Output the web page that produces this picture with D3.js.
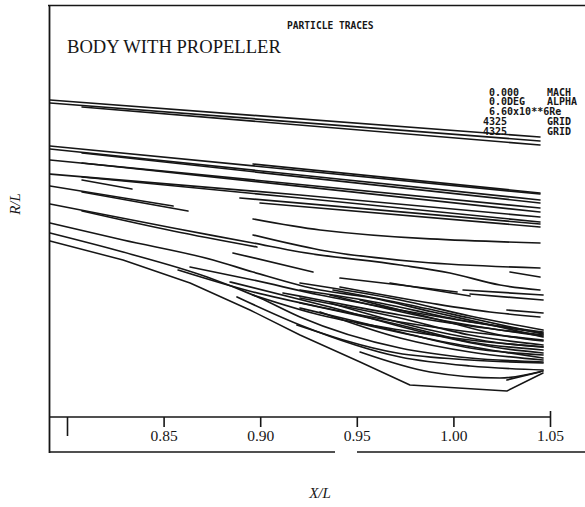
<!DOCTYPE html>
<html><head><meta charset="utf-8">
<script src="https://cdn.jsdelivr.net/npm/d3@7"></script>
<style>body{margin:0;background:#fff}svg{display:block}</style>
</head><body><svg id="c" width="585" height="507"></svg>
<script>
// Axis ticks and annotation text
const xTicks = [0.80, 0.85, 0.90, 0.95, 1.00, 1.05];
const xTickLabels = ["", "0.85", "0.90", "0.95", "1.00", "1.05"];
const chartTitle = "BODY WITH PROPELLER";
const plotTag = "PARTICLE TRACES";
const legendValues = ["0.000", "0.0DEG", "6.60x10**6Re", "4325", "4325"];
const legendNames = ["MACH", "ALPHA", "", "GRID", "GRID"];

// Particle traces, each a list of [X/L, R/L] points
const outerTraces = [
  [[0.7912,0.0634],[1.0448,0.0560]],
  [[0.7912,0.0628],[1.0448,0.0552]],
  [[0.8078,0.0620],[1.0448,0.0544]],
  [[0.8963,0.0506],[1.0448,0.0448]],
  [[0.7912,0.0542],[1.0448,0.0446]],
  [[0.7912,0.0536],[1.0448,0.0434]],
  [[0.8078,0.0528],[1.0448,0.0428]],
  [[0.7912,0.0514],[1.0448,0.0418]],
  [[0.8078,0.0508],[1.0448,0.0410]],
  [[0.7912,0.0486],[0.9206,0.0444],[1.0448,0.0400]],
  [[0.8078,0.0480],[0.9206,0.0438],[1.0448,0.0390]],
  [[0.8078,0.0474],[0.8336,0.0456]],
  [[0.7912,0.0462],[0.8549,0.0422]],
  [[0.8078,0.0450],[0.8626,0.0412]],
  [[0.8895,0.0438],[1.0448,0.0386]],
  [[0.8999,0.0428],[1.0448,0.0380]],
  [[0.8963,0.0396],[0.9310,0.0374],[1.0448,0.0348]],
  [[0.8963,0.0364],[0.9310,0.0334],[0.9827,0.0310],[1.0448,0.0298]]
];

const midTraces = [
  [[0.7912,0.0426],[0.8549,0.0378],[0.8963,0.0348],[0.9206,0.0330],[0.9724,0.0304],[0.9982,0.0288],[1.0241,0.0264],[1.0448,0.0254]],
  [[0.8078,0.0412],[0.8549,0.0372],[0.8983,0.0340]],
  [[0.8859,0.0328],[0.9273,0.0290]],
  [[0.9413,0.0260],[0.9879,0.0228],[1.0189,0.0210],[1.0448,0.0200]],
  [[1.0293,0.0290],[1.0448,0.0280]],
  [[0.9413,0.0278],[0.9724,0.0264],[1.0019,0.0250]],
  [[0.9672,0.0268],[1.0086,0.0242]],
  [[1.0050,0.0254],[1.0464,0.0244]],
  [[1.0086,0.0246],[1.0464,0.0234]],
  [[1.0277,0.0214],[1.0464,0.0208]]
];

const wakeTraces = [
  [[0.7912,0.0388],[0.8290,0.0354],[0.8756,0.0314],[0.8963,0.0290],[0.9310,0.0254],[0.9553,0.0240],[0.9894,0.0210],[1.0241,0.0180],[1.0464,0.0160]],
  [[0.8575,0.0294],[0.8963,0.0250],[0.9310,0.0220],[0.9724,0.0190],[1.0086,0.0170],[1.0464,0.0154]],
  [[0.8637,0.0300],[0.8963,0.0274],[0.9310,0.0244],[0.9724,0.0214],[1.0086,0.0190],[1.0464,0.0168]],
  [[0.8963,0.0244],[0.9310,0.0204],[0.9724,0.0174],[1.0086,0.0154],[1.0464,0.0140]],
  [[0.9118,0.0248],[0.9310,0.0234],[0.9724,0.0204],[1.0086,0.0182],[1.0464,0.0164]],
  [[0.9206,0.0268],[0.9724,0.0234],[1.0086,0.0202],[1.0464,0.0174]],
  [[0.9377,0.0254],[0.9724,0.0228],[1.0086,0.0198],[1.0464,0.0166]],
  [[0.9361,0.0244],[0.9879,0.0198],[1.0241,0.0174],[1.0464,0.0162]],
  [[0.9206,0.0254],[0.9620,0.0228],[1.0034,0.0194],[1.0464,0.0170]],
  [[0.9517,0.0234],[0.9931,0.0194],[1.0241,0.0164],[1.0464,0.0152]],
  [[0.9361,0.0228],[0.9879,0.0174],[1.0241,0.0148],[1.0464,0.0140]],
  [[0.8844,0.0270],[0.9361,0.0220],[0.9879,0.0166],[1.0241,0.0138],[1.0464,0.0128]],
  [[0.9206,0.0238],[0.9724,0.0198],[1.0086,0.0164],[1.0464,0.0144]],
  [[0.9206,0.0228],[0.9724,0.0184],[1.0086,0.0150],[1.0464,0.0134]],
  [[0.9206,0.0218],[0.9724,0.0170],[1.0086,0.0138],[1.0464,0.0124]],
  [[0.9501,0.0188],[0.9982,0.0148],[1.0464,0.0118]],
  [[0.9310,0.0210],[0.9724,0.0158],[1.0086,0.0130],[1.0464,0.0114]],
  [[0.9190,0.0184],[0.9708,0.0128],[1.0086,0.0114],[1.0464,0.0108]],
  [[0.7912,0.0368],[0.8290,0.0330],[0.8725,0.0280],[0.8999,0.0238],[0.9206,0.0200],[0.9724,0.0138],[1.0086,0.0118],[1.0464,0.0110]],
  [[0.8880,0.0240],[0.9206,0.0184],[0.9724,0.0120],[1.0086,0.0102],[1.0464,0.0094]],
  [[0.9517,0.0130],[0.9879,0.0090],[1.0241,0.0078],[1.0464,0.0092]],
  [[1.0277,0.0074],[1.0448,0.0090]]
];

// Hull contour with the propeller hub
const bodyContour = [[0.7912,0.0352],[0.8290,0.0314],[0.8637,0.0268],[0.8947,0.0214],[0.9206,0.0164],[0.9517,0.0110],[0.9775,0.0064],[1.0277,0.0052],[1.0464,0.0088]];

const svg = d3.select("#c");
svg.append("rect").attr("width",585).attr("height",507).attr("fill","#fff");

const x = d3.scaleLinear().domain([0.80, 1.05]).range([67, 550]);
const y = d3.scaleLinear().domain([0, 0.072]).range([417, 57]);
const ink = "#161616";

// frame
const frame = svg.append("g").attr("stroke", ink).attr("fill","none");
frame.append("line").attr("x1",49.5).attr("x2",49.5).attr("y1",5).attr("y2",453).attr("stroke-width",1.8);
frame.append("line").attr("x1",48).attr("x2",585).attr("y1",5.5).attr("y2",5.5).attr("stroke-width",1.4);
frame.append("line").attr("x1",50).attr("x2",335).attr("y1",452).attr("y2",452).attr("stroke-width",1.4);
frame.append("line").attr("x1",357).attr("x2",585).attr("y1",452).attr("y2",452).attr("stroke-width",1.4);

// traces
const smooth = d3.line().x(d => x(d[0])).y(d => y(d[1])).curve(d3.curveMonotoneX);
const straight = d3.line().x(d => x(d[0])).y(d => y(d[1]));
const tg = svg.append("g").attr("fill","none").attr("stroke", ink).attr("stroke-width",1.7)
  .attr("stroke-linecap","round").attr("stroke-linejoin","round");
tg.selectAll("path.o").data(outerTraces).join("path").attr("class","o").attr("d", smooth);
tg.selectAll("path.m").data(midTraces).join("path").attr("class","m").attr("d", smooth);
tg.selectAll("path.w").data(wakeTraces).join("path").attr("class","w").attr("d", smooth);
tg.append("path").datum(bodyContour).attr("d", straight).attr("stroke-width",1.5);

// x axis
const axis = d3.axisBottom(x).tickValues(xTicks).tickSize(10).tickPadding(3)
  .tickFormat((d,i) => xTickLabels[i]);
const ag = svg.append("g").attr("transform", `translate(0,${y(0)})`).call(axis);
ag.select(".domain").remove();
ag.selectAll(".tick line").attr("stroke", ink).attr("stroke-width",1.6);
ag.selectAll(".tick line").filter((d,i) => i === 0).attr("y2", 19);
ag.selectAll(".tick line").filter((d,i) => i === xTicks.length-1).attr("y1", -6);
ag.selectAll(".tick text").attr("fill", ink)
  .style("font-family","'Liberation Serif','DejaVu Serif',serif").style("font-size","15.5px");
svg.append("line").attr("x1",50).attr("x2",x(1.05)).attr("y1",y(0)).attr("y2",y(0))
  .attr("stroke", ink).attr("stroke-width",1.5);

// axis titles
svg.append("text").attr("transform","translate(20,204) rotate(-90)").attr("text-anchor","middle")
  .style("font-family","'Liberation Serif',serif").style("font-style","italic").style("font-size","15px")
  .attr("fill", ink).text("R/L");
svg.append("text").attr("x",320).attr("y",498).attr("text-anchor","middle")
  .style("font-family","'Liberation Serif',serif").style("font-style","italic").style("font-size","15px")
  .attr("fill", ink).text("X/L");

// titles
svg.append("text").attr("x",67).attr("y",53)
  .style("font-family","'Liberation Serif',serif").style("font-size","18.6px")
  .attr("fill", ink).text(chartTitle);
const mono = "'DejaVu Sans Mono','Liberation Mono',monospace";
svg.append("text").attr("x",287).attr("y",28.5)
  .style("font-family",mono).style("font-weight","bold").style("font-size","9.6px")
  .attr("fill", ink).text(plotTag);

// run-condition block
const lg = svg.append("g").style("font-family",mono).style("font-weight","bold")
  .style("font-size","10px").attr("fill", ink);
lg.selectAll("text.v").data(legendValues).join("text").attr("class","v")
  .attr("x",(d,i) => i >= 3 ? 483 : 489).attr("y",(d,i) => 95.5 + i*9.8).text(d => d);
lg.selectAll("text.n").data(legendNames).join("text").attr("class","n")
  .attr("x",547).attr("y",(d,i) => 95.5 + i*9.8).text(d => d);
</script></body></html>
